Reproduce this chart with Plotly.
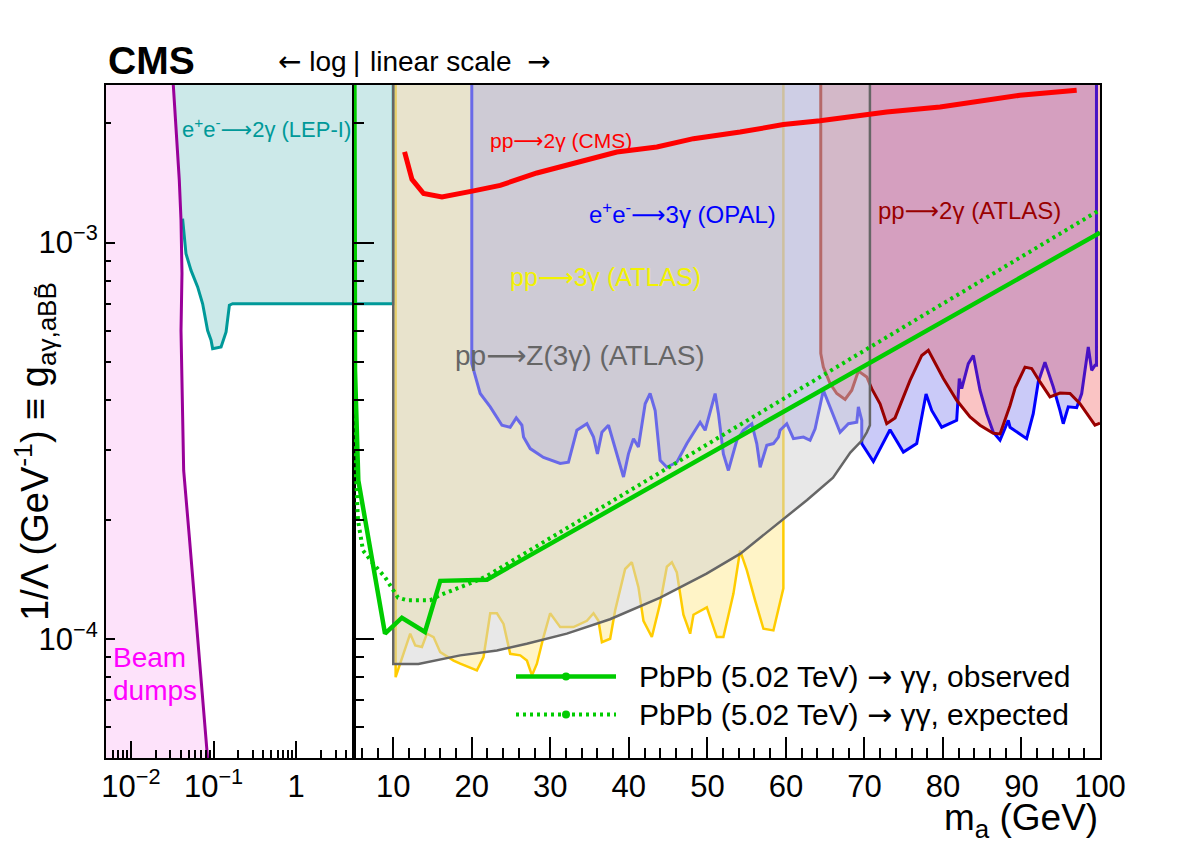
import numpy as np
import plotly.graph_objects as go

# ---------------- data ----------------
G_TOP = 2.6e-3      # exclusion regions extend above the top of the frame
G_BOT = 4.8e-5

# Beam dumps (left, log-x panel)
beam_m = [0.0322, 0.0385, 0.0404, 0.0415, 0.0404, 0.0435, 0.0509, 0.0847, 0.086]
beam_g = [2.6e-3, 1.44e-3, 1.14e-3, 8.37e-4, 6.0e-4, 2.66e-4, 1.81e-4, 5.0e-5, 4.8e-5]

# e+e- -> 2gamma (LEP-I)
lep_edge_m = [0.0322, 0.0385, 0.0403]
lep_edge_g = [2.6e-3, 1.44e-3, 1.15e-3]
lep_m = [0.0422, 0.0464, 0.0534, 0.0642, 0.0738, 0.0848, 0.0933, 0.0975, 0.1233,
         0.1417, 0.1554, 0.1703, 10.0, 10.0]
lep_g = [1.15e-3, 9.38e-4, 8.51e-4, 7.73e-4, 7.01e-4, 6.0e-4, 5.67e-4, 5.40e-4, 5.45e-4,
         5.95e-4, 6.95e-4, 7.01e-4, 7.01e-4, 2.6e-3]

# pp -> 3gamma (ATLAS)
atl3_m = [10.3, 10.3, 12.16, 12.8, 13.65, 14.29, 15.13, 15.98, 17.68, 18.53,
          20.65, 21.49, 22.35, 23.2, 24.04, 24.89, 26.17, 27.02, 27.66, 28.29,
          29.13, 29.98, 31.26, 32.95, 34.66, 35.5, 36.13, 36.57, 37.62, 38.26,
          39.53, 40.38, 41.22, 41.86, 42.93, 43.99, 44.84, 45.48, 46.11, 46.95,
          47.81, 48.23, 49.93, 51.2, 52.04, 53.32, 54.17, 55.02, 56.08, 57.14,
          58.41, 59.26, 59.68, 59.68]
atl3_g = [2.6e-3, 8.0e-5, 1.03e-4, 9.62e-5, 9.53e-5, 1.03e-4, 1.01e-4, 9.25e-5, 8.81e-5, 8.65e-5,
          8.32e-5, 8.99e-5, 1.16e-4, 1.16e-4, 1.09e-4, 9.16e-5, 9.08e-5, 8.81e-5, 8.08e-5, 8.65e-5,
          1.01e-4, 1.16e-4, 1.07e-4, 1.07e-4, 1.11e-4, 1.16e-4, 1.11e-4, 9.8e-5, 1.0e-4, 1.18e-4,
          1.50e-4, 1.56e-4, 1.35e-4, 1.11e-4, 1.01e-4, 1.23e-4, 1.52e-4, 1.56e-4, 1.47e-4, 1.15e-4,
          1.03e-4, 1.15e-4, 1.20e-4, 1.01e-4, 1.01e-4, 1.30e-4, 1.67e-4, 1.49e-4, 1.25e-4, 1.06e-4,
          1.05e-4, 1.25e-4, 1.34e-4, 2.6e-3]

# e+e- -> 3gamma (OPAL)
opal_m = [20.0, 20.0, 21.07, 22.35, 23.84, 24.89, 25.66, 26.38, 26.59, 27.44,
          29.13, 31.26, 32.31, 32.75, 33.38, 34.66, 35.5, 36.0, 36.57, 37.41,
          37.84, 39.32, 39.95, 40.59, 41.22, 42.08, 42.71, 43.35, 43.99, 44.84,
          46.11, 47.39, 49.08, 49.72, 50.99, 51.41, 52.04, 52.68, 53.75, 54.59,
          55.66, 56.29, 56.72, 57.57, 58.41, 59.05, 59.26, 60.11, 60.96, 62.23,
          63.08, 63.72, 64.77, 65.63, 66.9, 67.96, 69.03, 69.23, 69.66, 69.66,
          71.14, 73.26, 74.96, 76.66, 77.85, 78.57, 79.84, 81.75, 82.08, 82.39,
          83.23, 83.87, 84.72, 85.57, 86.41, 87.27, 88.32, 88.54, 90.66, 91.5,
          92.14, 92.99, 94.05, 94.9, 95.32, 95.96, 97.03, 97.67, 98.51, 98.94,
          99.36, 99.55, 99.55]
opal_g = [2.6e-3, 4.95e-4, 4.16e-4, 3.85e-4, 3.46e-4, 3.42e-4, 3.61e-4, 3.46e-4, 3.23e-4, 3.02e-4,
          2.87e-4, 2.77e-4, 2.79e-4, 3.02e-4, 3.36e-4, 3.49e-4, 3.23e-4, 2.93e-4, 3.32e-4, 3.46e-4,
          3.23e-4, 2.56e-4, 2.93e-4, 3.20e-4, 3.05e-4, 3.92e-4, 4.16e-4, 3.77e-4, 2.82e-4, 2.71e-4,
          2.79e-4, 3.11e-4, 3.52e-4, 3.36e-4, 4.16e-4, 3.70e-4, 2.93e-4, 2.66e-4, 3.17e-4, 3.36e-4,
          3.49e-4, 3.11e-4, 2.71e-4, 3.08e-4, 3.11e-4, 3.23e-4, 3.36e-4, 3.49e-4, 3.20e-4, 3.23e-4,
          3.17e-4, 3.39e-4, 4.24e-4, 3.85e-4, 3.32e-4, 3.49e-4, 3.52e-4, 3.85e-4, 3.56e-4, 3.11e-4,
          2.8e-4, 3.37e-4, 2.96e-4, 3.11e-4, 4.15e-4, 3.77e-4, 3.42e-4, 3.56e-4, 4.54e-4, 4.28e-4,
          4.95e-4, 5.19e-4, 4.24e-4, 3.70e-4, 3.32e-4, 3.17e-4, 3.56e-4, 3.42e-4, 3.20e-4, 3.70e-4,
          4.45e-4, 4.99e-4, 4.32e-4, 3.77e-4, 3.49e-4, 3.85e-4, 3.83e-4, 4.16e-4, 5.45e-4, 4.76e-4,
          4.90e-4, 4.90e-4, 2.6e-3]

# pp -> 2gamma (ATLAS)
atl2_m = [64.44, 64.44, 64.77, 65.63, 66.48, 67.54, 68.39, 69.23, 70.3, 70.93,
          71.99, 72.84, 73.9, 75.81, 77.3, 78.14, 80.05, 81.75, 83.45, 84.72,
          86.41, 87.27, 88.54, 89.2, 90.45, 91.3, 92.36, 93.63, 94.9, 96.18,
          97.45, 98.51, 99.36, 100.0, 100.0]
atl2_g = [2.6e-3, 5.25e-4, 4.85e-4, 4.41e-4, 4.16e-4, 4.02e-4, 4.24e-4, 4.74e-4, 4.58e-4, 4.28e-4,
          3.92e-4, 3.49e-4, 3.61e-4, 4.49e-4, 5.19e-4, 5.35e-4, 4.54e-4, 4.0e-4, 3.63e-4, 3.46e-4,
          3.30e-4, 3.29e-4, 3.88e-4, 4.3e-4, 4.85e-4, 4.81e-4, 4.45e-4, 4.08e-4, 4.17e-4, 4.16e-4,
          3.92e-4, 3.66e-4, 3.46e-4, 3.5e-4, 2.6e-3]

# pp -> Z(3gamma) (ATLAS)
z3_m = [10.0, 10.0, 13.2, 18.53, 23.2, 27.0, 32.1, 37.6, 44.0, 49.9,
        54.2, 58.4, 62.7, 66.0, 68.2, 69.7, 70.3, 70.7, 70.7]
z3_g = [2.6e-3, 8.64e-5, 8.64e-5, 9.08e-5, 9.34e-5, 9.71e-5, 1.03e-4, 1.12e-4, 1.27e-4, 1.46e-4,
        1.64e-4, 1.91e-4, 2.24e-4, 2.55e-4, 2.95e-4, 3.17e-4, 3.32e-4, 3.46e-4, 2.6e-3]

# pp -> 2gamma (CMS)
cms_m = [11.44, 12.38, 13.86, 16.2, 20.22, 23.62, 28.29, 32.95, 38.48, 43.57,
         48.23, 54.17, 59.68, 64.35, 70.72, 72.84, 79.63, 86.85, 89.81, 97.03]
cms_g = [1.694e-3, 1.445e-3, 1.33e-3, 1.305e-3, 1.351e-3, 1.395e-3, 1.499e-3, 1.583e-3, 1.694e-3, 1.743e-3,
         1.83e-3, 1.902e-3, 1.986e-3, 2.03e-3, 2.105e-3, 2.137e-3, 2.20e-3, 2.31e-3, 2.355e-3, 2.425e-3]

# PbPb (5.02 TeV) -> gamma gamma, observed / expected
obs_m = [5.05, 5.13, 5.55, 8.95, 11.1, 14.04, 15.98, 21.93, 100.0]
obs_g = [2.6e-3, 4.76e-4, 2.51e-4, 1.03e-4, 1.13e-4, 1.04e-4, 1.40e-4, 1.41e-4, 1.06e-3]
exp_m = [5.02, 5.13, 5.51, 6.15, 7.42, 8.95, 10.6, 11.8, 14.7, 16.0, 20.2, 21.9, 100.0]
exp_g = [5.2e-4, 2.94e-4, 1.99e-4, 1.67e-4, 1.55e-4, 1.43e-4, 1.27e-4, 1.25e-4, 1.25e-4,
         1.29e-4, 1.39e-4, 1.44e-4, 1.21e-3]

# tick values / labels
xl_major = [0.01, 0.1, 1]
xl_text = ["10<sup>\u22122</sup>", "10<sup>\u22121</sup>", "1"]
xl_minor = [0.006, 0.007, 0.008, 0.009, 0.02, 0.03, 0.04, 0.05, 0.06, 0.07, 0.08, 0.09,
            0.2, 0.3, 0.4, 0.5, 0.6, 0.7, 0.8, 0.9, 2, 3, 4]
xr_major = [10, 20, 30, 40, 50, 60, 70, 80, 90, 100]
xr_text = [str(v) for v in xr_major]
xr_minor = [6, 8, 12, 14, 16, 18, 22, 24, 26, 28, 32, 34, 36, 38, 42, 44, 46, 48, 52, 54,
            56, 58, 62, 64, 66, 68, 72, 74, 76, 78, 82, 84, 86, 88, 92, 94, 96, 98]
y_major = [1e-4, 1e-3]
y_text = ["10<sup>\u22124</sup>", "10<sup>\u22123</sup>"]
y_minor = [6e-5, 7e-5, 8e-5, 9e-5, 2e-4, 3e-4, 4e-4, 5e-4, 6e-4, 7e-4, 8e-4, 9e-4, 2e-3]

for a, b in [(beam_m, beam_g), (lep_m, lep_g), (atl3_m, atl3_g), (opal_m, opal_g),
             (atl2_m, atl2_g), (z3_m, z3_g), (cms_m, cms_g), (obs_m, obs_g), (exp_m, exp_g)]:
    assert len(a) == len(b)

# ---------------- figure ----------------
FONT = "Liberation Sans, Arial, Helvetica, sans-serif"
W, H = 1182, 853
L, R, T, B = 106, 82, 85, 95
PW, PH = W - L - R, H - T - B
SPLIT = (354 - L) / PW

RA = "<span style='font-family:DejaVu Sans'>\u27f6</span>"   # long right arrow
RA_S = "<span style='font-family:DejaVu Sans'>\u2192</span>"
LA_S = "<span style='font-family:DejaVu Sans'>\u2190</span>"


def px(x):
    return (x - L) / PW


def py(y):
    return (H - B - y) / PH


fig = go.Figure()


def area(x, y, color, xa, ya):
    fig.add_trace(go.Scatter(x=x, y=y, mode="lines", fill="toself", fillcolor=color,
                             line=dict(width=0, color=color), xaxis=xa, yaxis=ya,
                             hoverinfo="skip", showlegend=False))


def curve(x, y, color, width, xa, ya, dash="solid"):
    fig.add_trace(go.Scatter(x=x, y=y, mode="lines",
                             line=dict(color=color, width=width, dash=dash),
                             xaxis=xa, yaxis=ya, hoverinfo="skip", showlegend=False))


C_BEAMFILL = "#fde2fa"
C_BEAM = "#990099"
C_LEPFILL = "#cce9e9"
C_LEP = "#009999"
C_Y_FILL = "rgba(255,204,0,0.22)"
C_Y = "#ffcc00"
C_O_FILL = "rgba(138,138,240,0.45)"
C_O = "#0000ff"
C_A_FILL = "rgba(240,60,60,0.30)"
C_A = "#990000"
C_Z_FILL = "rgba(209,209,209,0.5)"
C_Z = "#666666"
C_G = "#00cc00"

# left (log) panel
area(beam_m + [0.004, 0.004], beam_g + [G_BOT, G_TOP], C_BEAMFILL, "x", "y")
area(lep_edge_m + lep_m, lep_edge_g + lep_g, C_LEPFILL, "x", "y")
curve(lep_m, lep_g, C_LEP, 3, "x", "y")
curve(beam_m, beam_g, C_BEAM, 3, "x", "y")

# right (linear) panel
area(lep_edge_m + lep_m, lep_edge_g + lep_g, C_LEPFILL, "x2", "y2")
curve(lep_m, lep_g, C_LEP, 3, "x2", "y2")
area(atl3_m, atl3_g, C_Y_FILL, "x2", "y2")
curve(atl3_m, atl3_g, C_Y, 2.5, "x2", "y2")
area(opal_m, opal_g, C_O_FILL, "x2", "y2")
curve(opal_m, opal_g, C_O, 3, "x2", "y2")
area(atl2_m, atl2_g, C_A_FILL, "x2", "y2")
curve(atl2_m[:-1], atl2_g[:-1], C_A, 3, "x2", "y2")
area(z3_m, z3_g, C_Z_FILL, "x2", "y2")
curve(z3_m, z3_g, C_Z, 2.5, "x2", "y2")
curve(exp_m, exp_g, C_G, 4, "x2", "y2", dash="3px,4px")
curve(obs_m, obs_g, C_G, 4.5, "x2", "y2")
curve(cms_m, cms_g, "#ff0000", 5, "x2", "y2")

common = dict(showline=True, linecolor="black", linewidth=2, mirror=True, showgrid=False,
              zeroline=False, ticks="inside", tickcolor="black", tickwidth=1.5,
              tickfont=dict(size=31, family=FONT, color="black"))

fig.update_layout(
    width=W, height=H, margin=dict(l=L, r=R, t=T, b=B, pad=0),
    paper_bgcolor="white", plot_bgcolor="white", showlegend=False,
    font=dict(family=FONT, color="black"),
    xaxis=dict(common, type="log", domain=[0, SPLIT], anchor="y",
               range=[np.log10(0.005), np.log10(5)], tickmode="array",
               tickvals=xl_major, ticktext=xl_text, ticklen=17,
               minor=dict(tickmode="array", tickvals=xl_minor, ticks="inside", ticklen=8,
                          tickcolor="black", tickwidth=1.5, showgrid=False)),
    xaxis2=dict(common, domain=[SPLIT, 1], anchor="y2", range=[5, 100], tickmode="array",
                tickvals=xr_major, ticktext=xr_text, ticklen=21,
                minor=dict(tickmode="array", tickvals=xr_minor, ticks="inside", ticklen=10,
                           tickcolor="black", tickwidth=1.5, showgrid=False)),
    yaxis=dict(common, type="log", domain=[0, 1], anchor="x",
               range=[np.log10(5e-5), np.log10(2.5e-3)], tickmode="array",
               tickvals=y_major, ticktext=y_text, ticklen=9,
               minor=dict(tickmode="array", tickvals=y_minor, ticks="inside", ticklen=5,
                          tickcolor="black", tickwidth=1.5, showgrid=False)),
    yaxis2=dict(common, type="log", domain=[0, 1], anchor="x2",
                range=[np.log10(5e-5), np.log10(2.5e-3)], tickmode="array",
                tickvals=y_major, ticktext=["", ""], showticklabels=False, ticklen=20,
                minor=dict(tickmode="array", tickvals=y_minor, ticks="inside", ticklen=10,
                           tickcolor="black", tickwidth=1.5, showgrid=False)),
)


def note(text, x, y, size, color="black", xanchor="left", yanchor="middle", angle=0):
    fig.add_annotation(text=text, x=px(x), y=py(y), xref="paper", yref="paper",
                       xanchor=xanchor, yanchor=yanchor, showarrow=False, textangle=angle,
                       font=dict(size=size, color=color, family=FONT))


note("<b>CMS</b>", 106, 61, 39)
note(LA_S + " log", 349, 62, 28, xanchor="right")
note("|", 356, 62, 28, xanchor="center")
note("linear scale\u00a0 " + RA_S, 368, 62, 28)
note("m<sub>a</sub> (GeV)", 1100, 820, 37, xanchor="right")
note("1/\u039b (GeV<sup>-1</sup>) \u2261 g<sub><span style='font-size:26px'>a\u03b3,aBB\u0303</span></sub>",
     35, 452, 38, xanchor="center", angle=-90)

note("e<sup>+</sup>e<sup>-</sup>" + RA + "2\u03b3 (LEP-I)", 180, 128, 22, C_LEP)
note("pp" + RA + "2\u03b3 (CMS)", 488, 141, 21, "#ff0000")
note("e<sup>+</sup>e<sup>-</sup>" + RA + "3\u03b3 (OPAL)", 587, 213, 24, "#0000ff")
note("pp" + RA + "2\u03b3 (ATLAS)", 876, 211, 24, C_A)
note("pp" + RA + "3\u03b3 (ATLAS)", 508, 277, 25, "#f2f200")
note("pp" + RA + "Z(3\u03b3) (ATLAS)", 453, 355, 28, C_Z)
note("Beam", 111, 657, 28, "#ff00ff")
note("dumps", 111, 690, 28, "#ff00ff")

# legend
for yy, dash, label in [(676.5, "solid", "observed"), (714.5, "3px,4px", "expected")]:
    fig.add_shape(type="line", xref="paper", yref="paper", x0=px(516), x1=px(616),
                  y0=py(yy), y1=py(yy), line=dict(color=C_G, width=4.5 if dash == "solid" else 4,
                                                 dash=dash))
    fig.add_shape(type="circle", xref="paper", yref="paper", x0=px(562), x1=px(570),
                  y0=py(yy + 4), y1=py(yy - 4), fillcolor=C_G, line=dict(color=C_G, width=0))
    note("PbPb (5.02 TeV) " + RA_S + " \u03b3\u03b3, " + label, 637, yy, 30)

fig.write_html("out.html")
